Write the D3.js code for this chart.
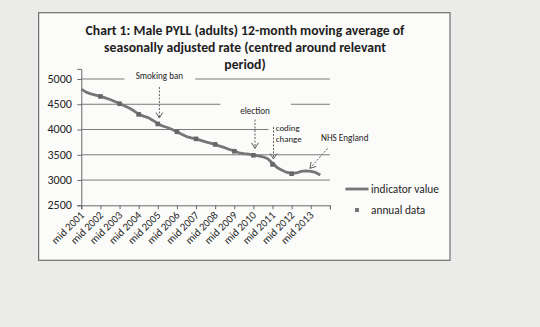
<!DOCTYPE html>
<html><head><meta charset="utf-8">
<script src="https://cdn.jsdelivr.net/npm/d3@7"></script>
<style>
body{margin:0;background:#ebebea;}
svg{display:block;}
text{font-family:Carlito,Lato,"Open Sans",sans-serif;fill:#1e1e1e;}
</style></head>
<body><svg id="c" width="540" height="327"></svg>
<script>
// ---- data ----
const titleLines = ["Chart 1: Male PYLL (adults) 12-month moving average of",
                    "seasonally adjusted rate (centred around relevant",
                    "period)"];
const xLabels = ["mid 2001","mid 2002","mid 2003","mid 2004","mid 2005","mid 2006","mid 2007",
                 "mid 2008","mid 2009","mid 2010","mid 2011","mid 2012","mid 2013"];
const yTicks = [2500,3000,3500,4000,4500,5000];
// months since mid 2001 (quarterly readings) and indicator value
const months = [0,3,6,9,12,15,18,21,24,27,30,33,36,39,42,45,48,51,54,57,60,63,66,69,72,75,78,81,84,87,90,93,96,99,102,105,108,111,114,117,120,123,126,129,132,135,138,141,144,147,150];
const indicator = [4800,4740,4705,4680,4655,4625,4595,4555,4515,4470,4425,4370,4305,4265,4235,4180,4115,4070,4040,4000,3955,3905,3860,3835,3815,3785,3755,3730,3705,3670,3640,3605,3575,3540,3525,3515,3495,3480,3460,3420,3330,3245,3195,3150,3130,3140,3170,3180,3172,3150,3100];
const annualMonths = [12,24,36,48,60,72,84,96,108,120,132];
const annualData = [4655,4510,4300,4110,3955,3815,3705,3570,3490,3310,3125];
const seriesNames = ["indicator value","annual data"];

const svg = d3.select("#c");
const x = d3.scaleLinear().domain([0,156]).range([81.3,329.9]);
const y = d3.scaleLinear().domain([2500,5200]).range([205.3,68.9]);

function fit(sel, target){ // scale font so text width matches target
  sel.each(function(){
    const fs = parseFloat(this.getAttribute("font-size"));
    const w = this.getComputedTextLength();
    if (w>0) this.setAttribute("font-size", (fs*target/w).toFixed(2));
  });
}

// chart frame
svg.append("rect").attr("x",38.6).attr("y",12.7).attr("width",411.4).attr("height",247.6)
  .attr("fill","#fbfbfa").attr("stroke","#6e6e6e").attr("stroke-width",1.2);

// title
const tW = [320,282,null];
const tY = [34.5,51.6,68.6];
const tg = svg.append("g");
titleLines.forEach((t,i)=>{
  const el = tg.append("text").attr("x",245).attr("y",tY[i]).attr("text-anchor","middle")
    .attr("font-weight","bold").attr("font-size",13).text(t);
  if (tW[i]) fit(el,tW[i]);
});
{
  const n = tg.selectAll("text").nodes();
  const fs = Math.min(+n[0].getAttribute("font-size"), +n[1].getAttribute("font-size"));
  n.forEach(e=>e.setAttribute("font-size",fs));
}

// gridlines
svg.append("g").selectAll("line").data(yTicks.slice(1)).join("line")
  .attr("x1",x(0)).attr("x2",x(156)).attr("y1",d=>y(d)).attr("y2",d=>y(d))
  .attr("stroke","#7a7a7a").attr("stroke-width",1);

// annotation boxes (white) covering gridlines
const boxes = [
  {m0:27.1,m1:71.4,v0:5200,v1:4700},
  {m0:87.3,m1:131.6,v0:4620,v1:4150},
  {m0:117.5,m1:145.5,v0:4160,v1:3680},
  {m0:145.5,m1:182,v0:4020,v1:3640}
];
svg.append("g").selectAll("rect").data(boxes).join("rect")
  .attr("x",d=>x(d.m0)).attr("width",d=>x(d.m1)-x(d.m0))
  .attr("y",d=>y(d.v0)).attr("height",d=>y(d.v1)-y(d.v0))
  .attr("fill","#fbfbfa");

// axes
const xAxis = svg.append("g").attr("transform",`translate(0,${y(2500)})`)
  .call(d3.axisBottom(x).tickValues(d3.range(0,157,12)).tickSize(4).tickFormat(""));
const yAxis = svg.append("g").attr("transform",`translate(${x(0)},0)`)
  .call(d3.axisLeft(y).tickValues(yTicks).tickSize(4).tickFormat(""));
[xAxis,yAxis].forEach(a=>{a.selectAll("path,line").attr("stroke","#6a6a6a").attr("stroke-width",1);});

// y labels
svg.append("g").selectAll("text").data(yTicks).join("text")
  .attr("x",72).attr("y",d=>y(d)+3.8).attr("text-anchor","end")
  .attr("font-size",10.5).text(d=>d)
  .call(s=>fit(s,24.5));
// x labels
const xl = svg.append("g").selectAll("text").data(xLabels).join("text")
  .attr("text-anchor","end").attr("font-size",10.5)
  .attr("transform",(d,i)=>`translate(${x(i*12)+3.5},${y(2500)+10.5}) rotate(-45)`)
  .text(d=>d);
{ const n=xl.nodes()[0]; const w=n.getComputedTextLength(); const fs=10.5*41/w; xl.attr("font-size",fs.toFixed(2)); }

// annotations
const annos = [
  {lines:["Smoking ban"], m:49, tv:[5061], w:47.5, a:{m0:49,v0:4842,m1:49,v1:4228}, anchor:"middle"},
  {lines:["election"], m:109, tv:[4365], w:29.5, a:{m0:109,v0:4198,m1:109,v1:3628}, anchor:"middle"},
  {lines:["coding","change"], m:122, tv:[4036,3812], w:24, a:{m0:120.6,v0:4050,m1:120.6,v1:3416}, anchor:"start"},
  {lines:["NHS England"], m:165.3, tv:[3826], w:47.5, a:{m0:154.5,v0:3624,m1:143.5,v1:3232}, anchor:"middle"}
];
const ag = svg.append("g");
annos.forEach(an=>{
  let fs0 = 8.5;
  an.lines.forEach((l,i)=>{
    const t = ag.append("text").attr("x",x(an.m)).attr("y",y(an.tv[i])+3)
      .attr("text-anchor",an.anchor).attr("font-size",8.5).text(l);
    if(i===0){ fit(t,an.w); fs0 = t.attr("font-size"); } else t.attr("font-size",fs0);
  });
  const x0=x(an.a.m0), y0=y(an.a.v0), x1=x(an.a.m1), y1=y(an.a.v1);
  ag.append("line").attr("x1",x0).attr("y1",y0).attr("x2",x1).attr("y2",y1)
    .attr("stroke","#5e5e5e").attr("stroke-width",1).attr("stroke-dasharray","2,1.5");
  const ang = Math.atan2(y1-y0,x1-x0), L=6.5, s=0.55;
  const p = [[x1-L*Math.cos(ang-s), y1-L*Math.sin(ang-s)],[x1,y1],[x1-L*Math.cos(ang+s), y1-L*Math.sin(ang+s)]];
  ag.append("path").attr("d",d3.line()(p)).attr("fill","none").attr("stroke","#5e5e5e").attr("stroke-width",1);
});

// data line
const pts = months.map((m,i)=>[m,indicator[i]]);
svg.append("path").datum(pts)
  .attr("d",d3.line().x(d=>x(d[0])).y(d=>y(d[1])))
  .attr("fill","none").attr("stroke","#767676").attr("stroke-width",2.8).attr("stroke-linejoin","round");
// annual markers
svg.append("g").selectAll("rect").data(annualMonths.map((m,i)=>[m,annualData[i]])).join("rect")
  .attr("x",d=>x(d[0])-2.3).attr("y",d=>y(d[1])-2.3).attr("width",4.6).attr("height",4.6)
  .attr("fill","#666");

// legend
const lg = svg.append("g");
lg.append("line").attr("x1",345.4).attr("x2",368.5).attr("y1",189).attr("y2",189)
  .attr("stroke","#767676").attr("stroke-width",2.8);
lg.append("rect").attr("x",355).attr("y",208).attr("width",4).attr("height",4).attr("fill","#777");
const l1 = lg.append("text").attr("x",371).attr("y",193).attr("font-size",11).text(seriesNames[0]);
fit(l1,68);
lg.append("text").attr("x",371).attr("y",214).attr("font-size",l1.attr("font-size")).text(seriesNames[1]);
</script></body></html>
